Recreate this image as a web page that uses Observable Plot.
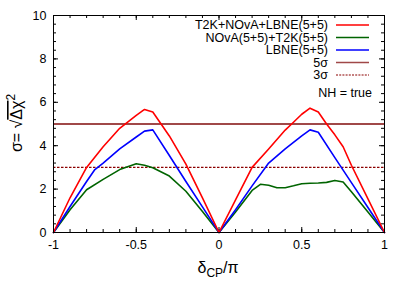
<!DOCTYPE html>
<html>
<head>
<meta charset="utf-8">
<script src="https://cdn.jsdelivr.net/npm/d3@7"></script>
<script src="https://cdn.jsdelivr.net/npm/@observablehq/plot@0.6"></script>
<style>
  html, body { margin: 0; padding: 0; background: #fff; }
  svg { font-family: "Liberation Sans", Arial, sans-serif; }
</style>
</head>
<body>
<div id="chart"></div>
<script>
// x = delta_CP / pi
const redX   = [-1, -0.9, -0.8, -0.7, -0.6, -0.5, -0.45, -0.4, -0.35, -0.3, -0.2, -0.1, 0, 0.1, 0.2, 0.3, 0.4, 0.45, 0.5, 0.55, 0.6, 0.65, 0.7, 0.75, 0.8, 0.9, 1];
const redY   = [0, 1.6, 3.0, 3.95, 4.8, 5.4, 5.67, 5.55, 5.0, 4.45, 3.15, 1.6, 0, 1.5, 3.0, 3.85, 4.72, 5.08, 5.45, 5.73, 5.55, 5.0, 4.5, 3.95, 3.1, 1.55, 0];
const blueX  = [-1, -0.9, -0.8, -0.75, -0.7, -0.6, -0.5, -0.45, -0.4, -0.3, -0.2, -0.1, 0, 0.1, 0.2, 0.3, 0.4, 0.5, 0.55, 0.6, 0.7, 0.8, 0.9, 1];
const blueY  = [0, 1.2, 2.35, 2.9, 3.2, 3.85, 4.4, 4.67, 4.73, 3.55, 2.35, 1.18, 0, 1.05, 2.15, 3.2, 3.85, 4.45, 4.73, 4.62, 3.45, 2.3, 1.15, 0];
const greenX = [-1, -0.9, -0.8, -0.7, -0.6, -0.5, -0.45, -0.4, -0.3, -0.2, -0.1, 0, 0.1, 0.2, 0.25, 0.3, 0.35, 0.4, 0.45, 0.5, 0.55, 0.6, 0.65, 0.7, 0.75, 0.8, 0.9, 1];
const greenY = [0, 1.05, 1.97, 2.45, 2.9, 3.17, 3.1, 2.98, 2.6, 1.9, 0.97, 0, 0.95, 1.94, 2.22, 2.18, 2.06, 2.06, 2.15, 2.25, 2.27, 2.28, 2.31, 2.4, 2.33, 1.88, 0.94, 0];
const sigmaLevels = [5, 3];
const xMajor = [-1, -0.5, 0, 0.5, 1];
const xMinor = d3.range(-10, 11).map(i => i / 10);
const yMajor = [0, 2, 4, 6, 8, 10];
const yMinor = d3.range(0, 26).map(i => +(i * 0.4).toFixed(1));
const legendLabels = ["T2K+NOvA+LBNE(5+5)", "NOvA(5+5)+T2K(5+5)", "LBNE(5+5)", "5σ", "3σ"];
const legendColors = ["#ff0000", "#006400", "#0000ff", "#a04848", "#8b0000"];
const noteText = "NH = true";

const toRows = (xs, ys) => xs.map((x, i) => ({x, y: ys[i]}));
const W = 407, H = 285, mL = 53, mR = 23, mT = 15, mB = 53;
const pw = W - mL - mR, ph = H - mT - mB;
const majorLen = 5, minorLen = 3;

const plot = Plot.plot({
  width: W, height: H,
  marginLeft: mL, marginRight: mR, marginTop: mT, marginBottom: mB,
  style: {fontFamily: '"Liberation Sans", Arial, sans-serif', fontSize: "12.5px", background: "#fff"},
  x: {domain: [-1, 1]},
  y: {domain: [0, 10]},
  marks: [
    // ticks (inward, mirrored)
    Plot.ruleX(xMinor, {stroke: "#000", strokeWidth: 1, insetTop: ph - minorLen}),
    Plot.ruleX(xMinor, {stroke: "#000", strokeWidth: 1, insetBottom: ph - minorLen}),
    Plot.ruleX(xMajor, {stroke: "#000", strokeWidth: 1, insetTop: ph - majorLen}),
    Plot.ruleX(xMajor, {stroke: "#000", strokeWidth: 1, insetBottom: ph - majorLen}),
    Plot.ruleY(yMinor, {stroke: "#000", strokeWidth: 1, insetRight: pw - minorLen}),
    Plot.ruleY(yMinor, {stroke: "#000", strokeWidth: 1, insetLeft: pw - minorLen}),
    Plot.ruleY(yMajor, {stroke: "#000", strokeWidth: 1, insetRight: pw - majorLen}),
    Plot.ruleY(yMajor, {stroke: "#000", strokeWidth: 1, insetLeft: pw - majorLen}),
    Plot.axisX({ticks: xMajor, tickSize: 0, tickPadding: 8, tickFormat: d => String(d), label: null, fontSize: 12.5}),
    Plot.axisY({ticks: yMajor, tickSize: 0, tickPadding: 7, tickFormat: d => String(d), label: null, fontSize: 12.5}),
    Plot.ruleY([sigmaLevels[0]], {stroke: "#a04848", strokeWidth: 2.2}),
    Plot.ruleY([sigmaLevels[1]], {stroke: "#8b0000", strokeWidth: 1.3, strokeDasharray: "2.5,1.5"}),
    Plot.line(toRows(greenX, greenY), {x: "x", y: "y", stroke: "#006400", strokeWidth: 1.6}),
    Plot.line(toRows(blueX, blueY), {x: "x", y: "y", stroke: "#0000ff", strokeWidth: 1.6}),
    Plot.line(toRows(redX, redY), {x: "x", y: "y", stroke: "#ff0000", strokeWidth: 1.6}),
    Plot.frame({stroke: "#000", strokeWidth: 1})
  ]
});

const svg = d3.select(plot);
// legend
const lg = svg.append("g").attr("font-size", 12.5).attr("fill", "#000");
legendLabels.forEach((t, i) => {
  const y = 25 + i * 12.5;
  lg.append("text").attr("x", 328).attr("y", y).attr("dy", "0.35em").attr("text-anchor", "end").text(t);
  const ln = lg.append("line").attr("x1", 336).attr("x2", 369).attr("y1", y).attr("y2", y)
    .attr("stroke", legendColors[i]).attr("stroke-width", i === 4 ? 1.2 : 1.6);
  if (i === 4) ln.attr("stroke-dasharray", "2,1.2");
});
lg.append("text").attr("x", 372).attr("y", 93).attr("dy", "0.35em").attr("text-anchor", "end").text(noteText);

// x label
const xl = svg.append("text").attr("x", 218).attr("y", 273).attr("text-anchor", "middle").attr("font-size", 16);
xl.append("tspan").text("δ");
xl.append("tspan").attr("font-size", 12).attr("dy", 4).text("CP");
xl.append("tspan").attr("dy", -4).text("/π");

// y label
const yl = svg.append("text").attr("transform", "translate(22,123) rotate(-90)").attr("text-anchor", "middle").attr("font-size", 16);
yl.append("tspan").text("σ= √");
yl.append("tspan").attr("text-decoration", "overline").text("Δχ");
yl.append("tspan").attr("font-size", 12).attr("dy", -7).text("2");

document.getElementById("chart").appendChild(plot);
</script>
</body>
</html>
